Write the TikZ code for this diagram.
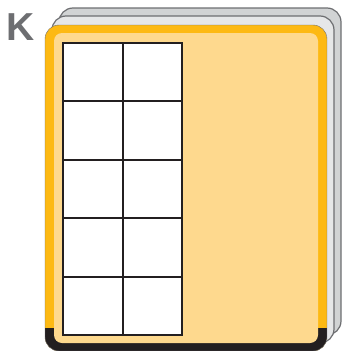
\documentclass[tikz,border=0pt]{standalone}
\usepackage{fontspec}
\setmainfont{Liberation Sans}
\definecolor{kgray}{HTML}{6D6E71}
\definecolor{backgray}{HTML}{D1D3D4}
\definecolor{midgray}{HTML}{E6E7E8}
\definecolor{orng}{HTML}{FDB913}
\definecolor{lightorng}{HTML}{FED98E}
\definecolor{inkblack}{HTML}{231F20}
\tikzset{
  card/.style={draw=kgray, line width=1.2pt, rounded corners=14pt},
  gridline/.style={draw=inkblack, line width=2pt},
}
\begin{document}
\begin{tikzpicture}[x=1pt,y=-1pt]
\useasboundingbox (0,0) rectangle (345,351);
% back cards
\path[card, fill=backgray] (59,8) rectangle (341,335);
\path[card, fill=midgray] (52,16) rectangle (334,343);
% front card
\begin{scope}
  \clip[rounded corners=14pt] (45,25) rectangle (327,351);
  \fill[orng] (45,25) rectangle (327,351);
  \fill[inkblack] (45,328) rectangle (327,351);
\end{scope}
\draw[kgray, line width=0.4pt, rounded corners=14pt] (45,25) rectangle (327,351);
\fill[lightorng, rounded corners=8pt] (54,33) rectangle (318,343);
% grid
\path[gridline, fill=white] (63,43) rectangle (182,335);
\foreach \yy in {101.4,159.8,218.2,276.6} {
  \draw[gridline] (63,\yy) -- (182,\yy);
}
\draw[gridline] (122.5,43) -- (122.5,335);
% label
\node[text=kgray, font=\bfseries\fontsize{39}{39}\selectfont, inner sep=0pt, anchor=base west] (k) at (6.5,40) {K};
\end{tikzpicture}
\end{document}
